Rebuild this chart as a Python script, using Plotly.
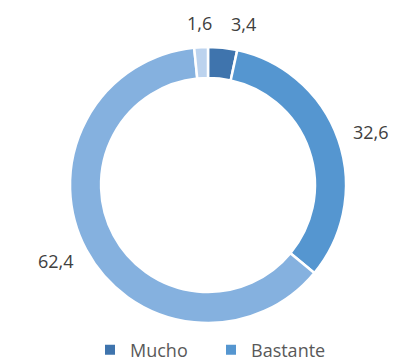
import math
import plotly.graph_objects as go

# Survey response shares (%), clockwise from 12 o'clock
categories = ["Mucho", "Bastante", "Poco", "Nada"]
values = [3.4, 32.6, 62.4, 1.6]
colors = ["#3f74ad", "#5596d0", "#85b1df", "#bcd3ee"]
legend_items = ["Mucho", "Bastante"]

# Plot-area geometry (pixels)
W, H = 398, 362
M = dict(l=70, r=52, t=47, b=39)
SIDE = W - M["l"] - M["r"]          # square plotting area
R = SIDE / 2                         # outer radius of the ring
LABEL_GAP = 14                       # distance from ring to nearest label edge
BOX_W, BOX_H = 40, 20                # approximate label box size
FONT = "Open Sans"

fig = go.Figure()
fig.add_trace(go.Pie(
    labels=categories,
    values=values,
    sort=False,
    direction="clockwise",
    rotation=0,
    hole=0.775,
    marker=dict(colors=colors, line=dict(color="white", width=2.5)),
    textinfo="none",
    showlegend=False,
    domain=dict(x=[0, 1], y=[0, 1]),
))

# Value labels outside the ring, placed at each slice's mid-angle
total = sum(values)
cum = 0.0
boxes = []
for v in values:
    mid = (cum + v / 2) / total * 2 * math.pi
    cum += v
    ux, uy = math.sin(mid), math.cos(mid)
    dx = (R + LABEL_GAP) * ux + BOX_W / 2 * ux
    dy = (R + LABEL_GAP) * uy + BOX_H / 2 * uy
    boxes.append([dx, dy, v])

# Push apart labels that would overlap horizontally
for i in range(1, len(boxes)):
    for j in range(i):
        a, b = boxes[j], boxes[i]
        if abs(a[1] - b[1]) < BOX_H and abs(a[0] - b[0]) < BOX_W + 4:
            shift = BOX_W + 4 - abs(a[0] - b[0])
            if a[0] <= b[0]:
                b[0] += shift
            else:
                a[0] += shift
# the wrap-around pair (first and last slice near the top)
a, b = boxes[0], boxes[-1]
if abs(a[1] - b[1]) < BOX_H and abs(a[0] - b[0]) < BOX_W + 4:
    a[0] = b[0] + BOX_W + 4

for dx, dy, v in boxes:
    fig.add_annotation(
        x=0.5 + dx / SIDE, y=0.5 + dy / SIDE, xref="paper", yref="paper",
        text=f"{v:.1f}".replace(".", ","), showarrow=False,
        xanchor="center", yanchor="middle",
        font=dict(family=FONT, size=18, color="#404040"),
    )

# Legend swatches
for name in legend_items:
    fig.add_trace(go.Scatter(
        x=[None], y=[None], mode="markers", name=name,
        marker=dict(symbol="square", size=10, color=colors[categories.index(name)]),
    ))

fig.update_layout(
    width=W, height=H,
    margin=dict(M, autoexpand=False),
    paper_bgcolor="white", plot_bgcolor="white",
    separators=",.",
    xaxis=dict(visible=False), yaxis=dict(visible=False),
    legend=dict(orientation="h", x=0.5 + 3 / SIDE, xanchor="center",
                yref="container", y=(H - 350) / H, yanchor="middle",
                font=dict(family=FONT, size=18, color="#595959"),
                entrywidth=76, tracegroupgap=0),
)

fig.write_html("out.html")
